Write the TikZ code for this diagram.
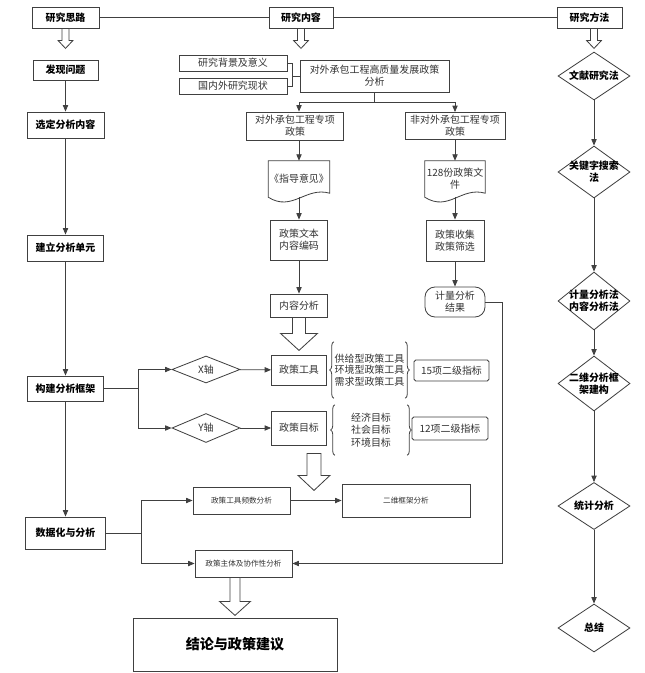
\documentclass[tikz,border=0pt]{standalone}
\usepackage{fontspec}
\setmainfont{Noto Sans CJK SC}
\usepackage{tikz}
\usetikzlibrary{positioning,arrows.meta,shapes.geometric,decorations.pathreplacing}
\definecolor{mygray}{RGB}{64,64,64}
\definecolor{mytext}{RGB}{51,51,51}

\newcommand{\hollowarrow}[5]{%
  \draw[wire, fill=white] #1 ++(-#2,0) -- ++(0,#4) -- ++(#2-#3,0) -- ++(#3,#5)
    -- ++(#3,-#5) -- ++(#2-#3,0) -- ++(0,-#4) -- cycle;}

\begin{document}
\begin{tikzpicture}[x=0.03cm, y=-0.03cm,
    wire/.style={draw=mygray, line width=0.7pt},
    arr/.style={wire, -{Triangle[length=5.5pt,width=4.5pt]}},
    wh/.style 2 args={minimum width=#1*0.03cm, minimum height=#2*0.03cm},
    box/.style={wire, fill=white, inner sep=0pt, align=center, text=mytext, font=\fontsize{8.5}{10}\selectfont},
    hbox/.style={box, text=black, font=\fontsize{8.5}{10}\selectfont\bfseries},
    sbox/.style={box, font=\fontsize{6.5}{8}\selectfont},
    docnode/.style={inner sep=0pt, align=center, text=mytext, font=\fontsize{8.5}{10}\selectfont},
    dia/.style={diamond, wire, fill=white, inner sep=0pt},
    dlab/.style={align=center, text=black, font=\fontsize{8.5}{10}\selectfont\bfseries},
    xlab/.style={align=center, text=mytext, font=\fontsize{8.5}{10}\selectfont},
    curly/.style={wire, decorate, decoration={brace, amplitude=3.5pt}},
  ]
  \useasboundingbox (0,0) rectangle (645,673);

  % headers
  \node[hbox, wh={67}{21}] (A0) at (65.5,17.5) {研究思路};
  \node[hbox, wh={64}{21}] (B0) at (301,17.5) {研究内容};
  \node[hbox, wh={65}{21}] (C0) at (589.5,17.5) {研究方法};
  \draw[wire] (A0) -- (B0);
  \draw[wire] (B0) -- (C0);

  % left column
  \node[hbox, wh={65}{20}] (A1) at (65.5,70) {发现问题};
  \node[hbox, wh={77}{26}] (A2) at (65.5,125) {选定分析内容};
  \node[hbox, wh={76}{26}] (A3) at (65.5,248) {建立分析单元};
  \node[hbox, wh={76}{25}] (A4) at (65.5,388.5) {构建分析框架};
  \node[hbox, wh={80}{32}] (A5) at (65.5,533) {数据化与分析};

  % middle column
  \node[box, wh={108}{16}] (B1) at (233,63) {研究背景及意义};
  \node[box, wh={108}{16}] (B2) at (233,86) {国内外研究现状};
  \node[box, wh={149}{32}] (B3) at (374.5,76) {对外承包工程高质量发展政策\\分析};
  \node[box, wh={97}{28}] (B4) at (295,126) {对外承包工程专项\\政策};
  \node[docnode, wh={61}{36}] (B5) at (299,179) {《指导意见》};
  \node[box, wh={57}{40}] (B6) at (299,240) {政策文本\\内容编码};
  \node[box, wh={57}{23}] (B7) at (299,305.5) {内容分析};
  \node[box, wh={100}{27}] (B8) at (455,126) {非对外承包工程专项\\政策};
  \node[docnode, wh={60}{36}] (B9) at (455,179) {128份政策文\\件};
  \node[box, wh={58}{41}] (B10) at (455,240.5) {政策收集\\政策筛选};
  \node[box, rounded corners=0.3cm, wh={60}{30}] (B11) at (455,302) {计量分析\\结果};

  \node[dia, wh={68}{27}, label={[xlab]center:X轴}] (B15) at (206,369.5) {};
  \node[dia, wh={68}{29}, label={[xlab]center:Y轴}] (B16) at (206,428) {};
  \node[box, wh={55}{30}] (B17) at (299,370) {政策工具};
  \node[box, wh={55}{34}] (B18) at (299,428) {政策目标};
  \node[docnode, wh={71}{56}, font=\fontsize{8.5}{9.8}\selectfont] (B19) at (369.5,370) {供给型政策工具\\环境型政策工具\\需求型政策工具};
  \node[docnode, wh={72}{50}, font=\fontsize{8.5}{10.6}\selectfont] (B20) at (371,430) {经济目标\\社会目标\\环境目标};
  \node[box, rounded corners=1.5pt, wh={75}{21}] (B21) at (451.5,370.5) {15项二级指标};
  \node[box, rounded corners=1.5pt, wh={76}{23}] (B22) at (450,428.5) {12项二级指标};

  \node[sbox, wh={97}{27}] (B12) at (241.5,500.5) {政策工具频数分析};
  \node[sbox, wh={97}{27}] (B13) at (243.5,563.5) {政策主体及协作性分析};
  \node[sbox, wh={128}{33}] (B14) at (406,500.5) {二维框架分析};
  \node[hbox, wh={204}{53}, font=\fontsize{12}{14}\selectfont\bfseries] (D1) at (235,644.5) {结论与政策建议};

  % right column
  \node[dia, wh={72}{48}, label={[dlab]center:文献研究法}] (C1) at (594,76) {};
  \node[dia, wh={72}{52}, label={[dlab]center:关键字搜索\\法}] (C2) at (594,172) {};
  \node[dia, wh={72}{58}, label={[dlab]center:计量分析法\\内容分析法}] (C3) at (594,301) {};
  \node[dia, wh={72}{55}, label={[dlab]center:二维分析框\\架建构}] (C4) at (594,383.5) {};
  \node[dia, wh={72}{47}, label={[dlab]center:统计分析}] (C5) at (594,506) {};
  \node[dia, wh={72}{48}, label={[dlab]center:总结}] (C6) at (594,628) {};

  % document shapes
  \draw[wire] (B5.south west) -- (B5.north west) -- (B5.north east) -- ([shift={(0,-4)}]B5.south east)
    .. controls +(-24,-7) and +(24,15) .. (B5.south west) -- cycle;
  \draw[wire] (B9.south west) -- (B9.north west) -- (B9.north east) -- ([shift={(0,-4)}]B9.south east)
    .. controls +(-24,-7) and +(24,15) .. (B9.south west) -- cycle;

  % braces
  \draw[curly] (B19.south west) -- (B19.north west);
  \draw[curly] (B19.north east) -- (B19.south east);
  \draw[curly] (B20.south west) -- (B20.north west);
  \draw[curly] (B20.north east) -- (B20.south east);

  % connectors
  \path (A1) edge[arr] (A2)
        (A2) edge[arr] (A3)
        (A3) edge[arr] (A4)
        (A4) edge[arr] (A5);

  \draw[wire] (B1.east) -- ++(5,0) |- (B2.east);
  \draw[wire] (B3.west) -- ++(-8,0);
  \draw[arr] (B3.south) -- ++(0,10) -| (B4.north -| B5);
  \draw[arr] (B3.south) -- ++(0,10) -| (B8.north);
  \path (B4.south -| B5) edge[arr] (B5.north)
        (B5.south) edge[arr] (B6.north)
        (B6) edge[arr] (B7)
        (B8) edge[arr] (B9)
        (B9) edge[arr] (B10)
        (B10) edge[arr] (B11);
  \draw[arr] (B11.east) -- ++(17,0) |- (B13.east);

  \draw[arr] (A4.east) -- ++(34,0) |- (B15.west);
  \draw[arr] (A4.east) -- ++(34,0) |- (B16.west);
  \path (B15) edge[arr] (B17)
        (B16) edge[arr] (B18);
  \draw[arr] (A5.east) -- ++(35,0) |- (B12.west);
  \draw[arr] (A5.east) -- ++(35,0) |- (B13.west);
  \path (B12) edge[arr] (B14);

  \path (C1) edge[arr] (C2)
        (C2) edge[arr] (C3)
        (C3) edge[arr] (C4)
        (C4) edge[arr] (C5)
        (C5) edge[arr] (C6);

  % hollow arrows
  \hollowarrow{(A0.south)}{3.5}{7.5}{12}{8}
  \hollowarrow{(B0.south)}{3.5}{7.5}{12}{8}
  \hollowarrow{(C0.south -| C1)}{3.5}{7.5}{12}{8}
  \hollowarrow{(B7.south)}{6.5}{18.5}{16}{17}
  \hollowarrow{([shift={(15,8)}]B18.south)}{7}{16}{22}{15}
  \hollowarrow{(B13.south -| D1)}{5}{15.5}{24}{14}
\end{tikzpicture}
\end{document}
